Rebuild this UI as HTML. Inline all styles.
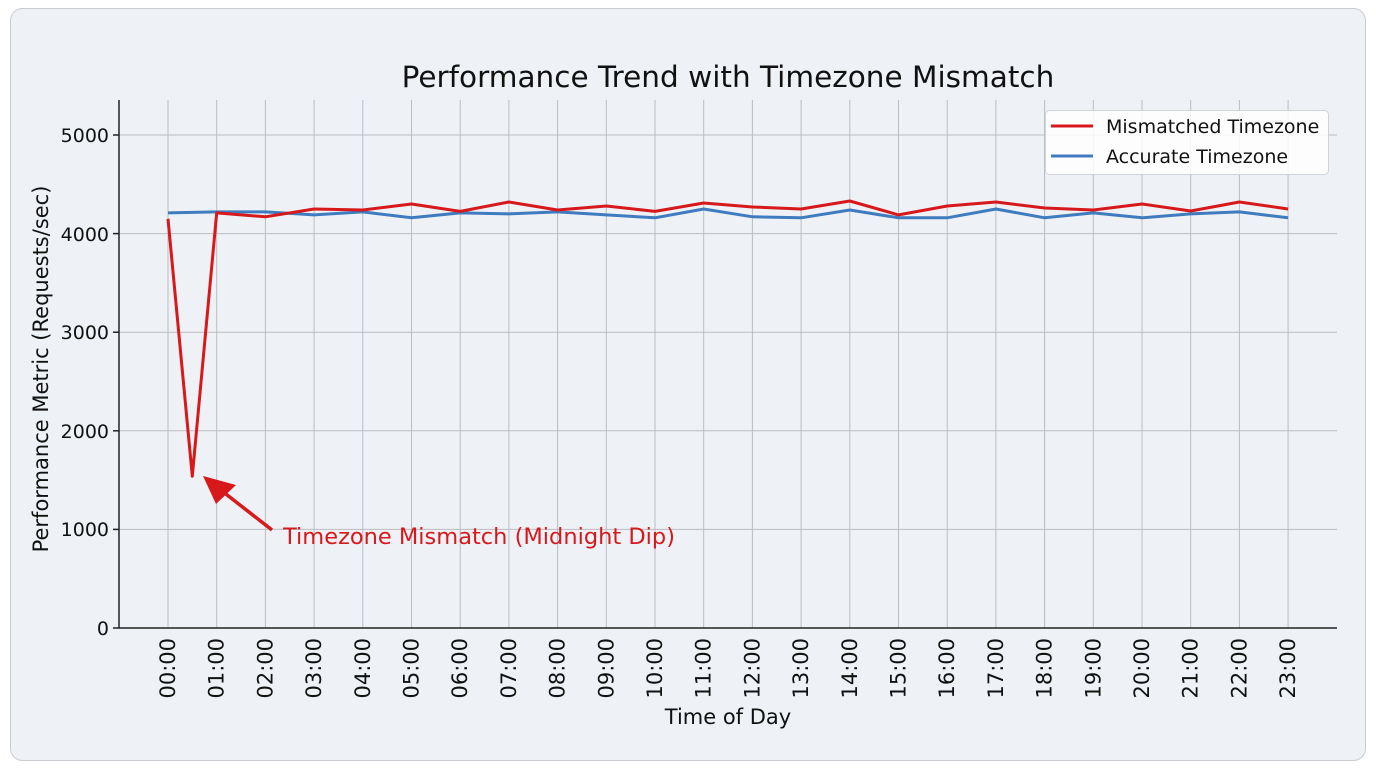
<!DOCTYPE html>
<html><head><meta charset="utf-8"><style>
html,body{margin:0;padding:0;background:#fff;width:1376px;height:768px;overflow:hidden}
svg text{font-family:"DejaVu Sans","Liberation Sans",sans-serif}
</style></head><body>
<svg width="1376" height="768" viewBox="0 0 1376 768">
<rect x="10.5" y="8.5" width="1355" height="752" rx="12" fill="#eef2f6" stroke="#c8ccd0"/>
<text x="728" y="87" font-size="29.5" text-anchor="middle" fill="#111">Performance Trend with Timezone Mismatch</text>
<g stroke="#b9bdc2" stroke-width="1">
<line x1="119" x2="1337" y1="135" y2="135"/><line x1="119" x2="1337" y1="233.6" y2="233.6"/><line x1="119" x2="1337" y1="332.2" y2="332.2"/><line x1="119" x2="1337" y1="430.8" y2="430.8"/><line x1="119" x2="1337" y1="529.4" y2="529.4"/>
<line x1="168" x2="168" y1="100" y2="628"/><line x1="216.7" x2="216.7" y1="100" y2="628"/><line x1="265.4" x2="265.4" y1="100" y2="628"/><line x1="314.1" x2="314.1" y1="100" y2="628"/><line x1="362.8" x2="362.8" y1="100" y2="628"/><line x1="411.5" x2="411.5" y1="100" y2="628"/><line x1="460.2" x2="460.2" y1="100" y2="628"/><line x1="508.9" x2="508.9" y1="100" y2="628"/><line x1="557.6" x2="557.6" y1="100" y2="628"/><line x1="606.3" x2="606.3" y1="100" y2="628"/><line x1="655" x2="655" y1="100" y2="628"/><line x1="703.7" x2="703.7" y1="100" y2="628"/><line x1="752.4" x2="752.4" y1="100" y2="628"/><line x1="801.1" x2="801.1" y1="100" y2="628"/><line x1="849.8" x2="849.8" y1="100" y2="628"/><line x1="898.5" x2="898.5" y1="100" y2="628"/><line x1="947.2" x2="947.2" y1="100" y2="628"/><line x1="995.9" x2="995.9" y1="100" y2="628"/><line x1="1044.6" x2="1044.6" y1="100" y2="628"/><line x1="1093.3" x2="1093.3" y1="100" y2="628"/><line x1="1142" x2="1142" y1="100" y2="628"/><line x1="1190.7" x2="1190.7" y1="100" y2="628"/><line x1="1239.4" x2="1239.4" y1="100" y2="628"/><line x1="1288.1" x2="1288.1" y1="100" y2="628"/>
</g>
<g stroke="#222" stroke-width="1.5">
<line x1="119" y1="100" x2="119" y2="628"/><line x1="119" y1="628" x2="1337" y2="628"/>
<line x1="113" x2="119" y1="135" y2="135"/><line x1="113" x2="119" y1="233.6" y2="233.6"/><line x1="113" x2="119" y1="332.2" y2="332.2"/><line x1="113" x2="119" y1="430.8" y2="430.8"/><line x1="113" x2="119" y1="529.4" y2="529.4"/><line x1="113" x2="119" y1="628" y2="628"/>
</g>
<g font-size="19" fill="#111" text-anchor="end">
<text x="109" y="142">5000</text><text x="109" y="241">4000</text><text x="109" y="339">3000</text><text x="109" y="438">2000</text><text x="109" y="536">1000</text><text x="109" y="635">0</text>
</g>
<g font-size="21" fill="#111" text-anchor="end">
<text transform="translate(175,638) rotate(-90)">00:00</text><text transform="translate(223.7,638) rotate(-90)">01:00</text><text transform="translate(272.4,638) rotate(-90)">02:00</text><text transform="translate(321.1,638) rotate(-90)">03:00</text><text transform="translate(369.8,638) rotate(-90)">04:00</text><text transform="translate(418.5,638) rotate(-90)">05:00</text><text transform="translate(467.2,638) rotate(-90)">06:00</text><text transform="translate(515.9,638) rotate(-90)">07:00</text><text transform="translate(564.6,638) rotate(-90)">08:00</text><text transform="translate(613.3,638) rotate(-90)">09:00</text><text transform="translate(662,638) rotate(-90)">10:00</text><text transform="translate(710.7,638) rotate(-90)">11:00</text><text transform="translate(759.4,638) rotate(-90)">12:00</text><text transform="translate(808.1,638) rotate(-90)">13:00</text><text transform="translate(856.8,638) rotate(-90)">14:00</text><text transform="translate(905.5,638) rotate(-90)">15:00</text><text transform="translate(954.2,638) rotate(-90)">16:00</text><text transform="translate(1002.9,638) rotate(-90)">17:00</text><text transform="translate(1051.6,638) rotate(-90)">18:00</text><text transform="translate(1100.3,638) rotate(-90)">19:00</text><text transform="translate(1149,638) rotate(-90)">20:00</text><text transform="translate(1197.7,638) rotate(-90)">21:00</text><text transform="translate(1246.4,638) rotate(-90)">22:00</text><text transform="translate(1295.1,638) rotate(-90)">23:00</text>
</g>
<text x="728" y="724" font-size="21" text-anchor="middle" fill="#111">Time of Day</text>
<text transform="translate(48,369) rotate(-90)" font-size="21" text-anchor="middle" fill="#111">Performance Metric (Requests/sec)</text>
<polyline fill="none" stroke="#3f7bbf" stroke-width="3" stroke-linejoin="round" points="168,212.9 216.7,211.9 265.4,211.9 314.1,214.9 362.8,211.9 411.5,217.8 460.2,212.9 508.9,213.9 557.6,211.9 606.3,214.9 655,217.8 703.7,209 752.4,216.8 801.1,217.8 849.8,210 898.5,217.8 947.2,217.8 995.9,209 1044.6,217.8 1093.3,212.9 1142,217.8 1190.7,213.9 1239.4,211.9 1288.1,217.8"/>
<polyline fill="none" stroke="#d7191c" stroke-width="3" stroke-linejoin="round" points="168,218.8 192.3,476.2 216.7,212.9 265.4,216.8 314.1,209 362.8,210 411.5,204 460.2,211.4 508.9,202 557.6,210 606.3,206 655,211.4 703.7,203 752.4,207 801.1,209 849.8,201 898.5,214.9 947.2,206 995.9,202 1044.6,208 1093.3,210 1142,204 1190.7,211 1239.4,202 1288.1,209"/>
<line x1="272" y1="530" x2="222" y2="491" stroke="#d7191c" stroke-width="3.5"/>
<polygon points="203,476 236,485 216,504" fill="#d7191c"/>
<text x="283" y="544" font-size="22.5" fill="#d7191c">Timezone Mismatch (Midnight Dip)</text>
<rect x="1045.5" y="110.5" width="283" height="64" rx="4" fill="#fff" fill-opacity="0.85" stroke="#d0d4d8"/>
<line x1="1051" x2="1093" y1="126" y2="126" stroke="#d7191c" stroke-width="3"/>
<line x1="1051" x2="1093" y1="156" y2="156" stroke="#3f7bbf" stroke-width="3"/>
<text x="1106" y="133" font-size="19" fill="#111">Mismatched Timezone</text>
<text x="1106" y="163" font-size="19" fill="#111">Accurate Timezone</text>
</svg>
</body></html>
